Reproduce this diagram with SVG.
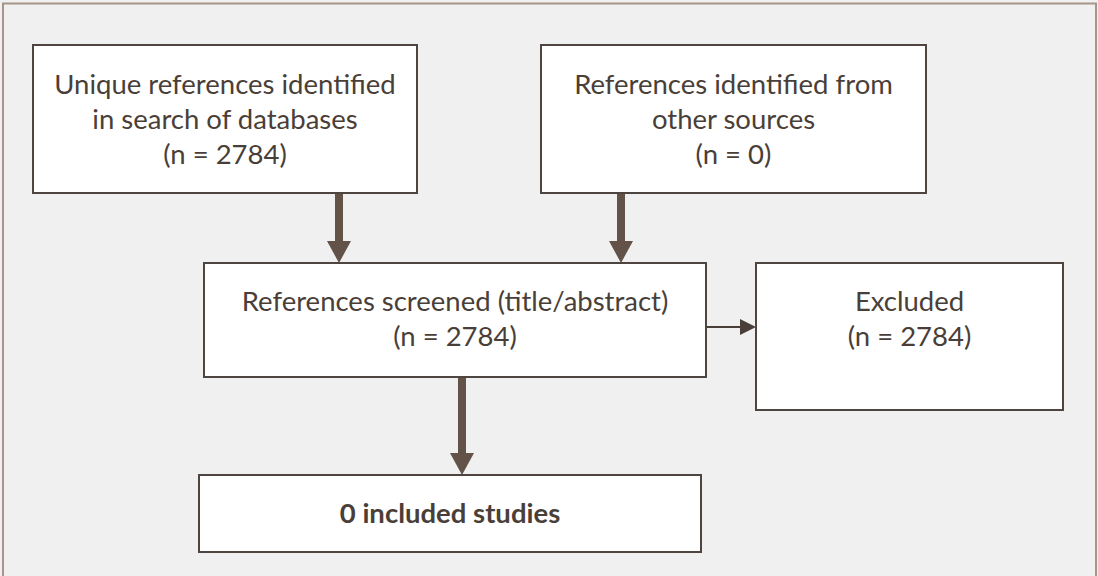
<svg xmlns="http://www.w3.org/2000/svg" width="1098" height="576" viewBox="0 0 1098 576">
  <style>
    .box { fill: #ffffff; stroke: #4e4540; stroke-width: 2; }
    .txt { font-family: "Lato", "Liberation Sans", sans-serif; font-size: 27.5px; fill: #4a3f38; text-anchor: middle; }
    .bold { font-weight: bold; }
    .thick { stroke: #625247; stroke-width: 8; fill: none; }
    .thin { stroke: #4a3f38; stroke-width: 2; fill: none; }
  </style>
  <defs>
    <marker id="headThick" markerUnits="userSpaceOnUse" markerWidth="24" markerHeight="24" viewBox="0 0 22 24" refX="2" refY="12" orient="auto">
      <path d="M0,0 L22,12 L0,24 Z" fill="#625247"/>
    </marker>
    <marker id="headThin" markerUnits="userSpaceOnUse" markerWidth="16" markerHeight="16" viewBox="0 0 16 16" refX="1" refY="8" orient="auto">
      <path d="M0,0 L16,8 L0,16 Z" fill="#4a3f38"/>
    </marker>
  </defs>
  <rect x="0" y="0" width="1098" height="576" fill="#f0f0f0"/>
  <rect x="3" y="3.5" width="1093" height="600" fill="none" stroke="#a89488" stroke-width="2"/>

  <g id="connectors">
    <path class="thick" d="M339,193 L339,243" marker-end="url(#headThick)"/>
    <path class="thick" d="M621,193 L621,243" marker-end="url(#headThick)"/>
    <path class="thick" d="M462,377 L462,455" marker-end="url(#headThick)"/>
    <path class="thin" d="M706,327 L741,327" marker-end="url(#headThin)"/>
  </g>

  <g id="node-databases">
    <rect class="box" x="33" y="45" width="384" height="148"/>
    <text class="txt" x="225" y="94">Unique references identified</text>
    <text class="txt" x="225" y="129">in search of databases</text>
    <text class="txt" x="225" y="164">(n = 2784)</text>
  </g>

  <g id="node-other">
    <rect class="box" x="541" y="45" width="385" height="148"/>
    <text class="txt" x="733.5" y="94">References identified from</text>
    <text class="txt" x="733.5" y="129">other sources</text>
    <text class="txt" x="733.5" y="164">(n = 0)</text>
  </g>

  <g id="node-screened">
    <rect class="box" x="204" y="263" width="502" height="114"/>
    <text class="txt" x="455" y="311">References screened (title/abstract)</text>
    <text class="txt" x="455" y="346">(n = 2784)</text>
  </g>

  <g id="node-excluded">
    <rect class="box" x="756" y="263" width="307" height="147"/>
    <text class="txt" x="909.5" y="311">Excluded</text>
    <text class="txt" x="909.5" y="346">(n = 2784)</text>
  </g>

  <g id="node-included">
    <rect class="box" x="199" y="475" width="502" height="77"/>
    <text class="txt bold" x="450" y="523">0 included studies</text>
  </g>
</svg>
